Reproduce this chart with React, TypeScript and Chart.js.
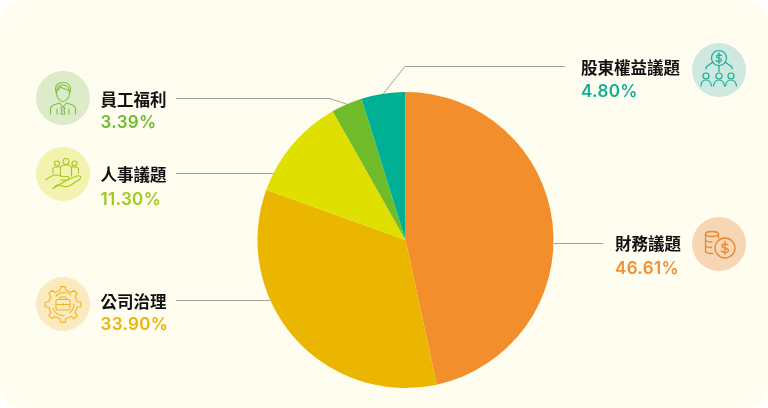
import React, { useEffect, useRef } from "react";
import { Chart, registerables } from "chart.js";

Chart.register(...registerables);

const categories = ["財務議題", "公司治理", "人事議題", "員工福利", "股東權益議題"];
const values = [46.61, 33.9, 11.3, 3.39, 4.8];
const valueLabels = ["46.61%", "33.90%", "11.30%", "3.39%", "4.80%"];
const sliceColors = ["#f28f2c", "#eab600", "#dfe000", "#6fbb29", "#00b094"];
const textColors = ["#f28f32", "#eab40a", "#9ccb1c", "#70bb30", "#12ae96"];
const iconBackgrounds = ["#f7d6b5", "#fbe9c0", "#f1f3ae", "#dcebc8", "#cfe8e0"];
const iconStrokes = ["#e8872a", "#f0b91a", "#a6c81e", "#80c040", "#18ad96"];

type Callout = {
  side: "left" | "right"; textLeft: number; iconX: number; iconY: number; titleY: number; valueY: number;
  lineY: number; lineEnd: number; elbowX?: number;
};
const callouts: Callout[] = [
  { side: "right", textLeft: 615, iconX: 719, iconY: 243.5, titleY: 243, valueY: 267.5, lineY: 243, lineEnd: 603 },
  { side: "left", textLeft: 100.5, iconX: 62.5, iconY: 303.5, titleY: 301, valueY: 323.5, lineY: 300, lineEnd: 176 },
  { side: "left", textLeft: 100.5, iconX: 62.5, iconY: 173.5, titleY: 174, valueY: 198.5, lineY: 173, lineEnd: 176 },
  { side: "left", textLeft: 100.5, iconX: 62.5, iconY: 98, titleY: 99, valueY: 121.5, lineY: 98, lineEnd: 176, elbowX: 330 },
  { side: "right", textLeft: 581, iconX: 719, iconY: 70, titleY: 67, valueY: 91, lineY: 66, lineEnd: 565, elbowX: 405 },
];

const leaderPlugin = {
  id: "leaders",
  afterDatasetsDraw(chart: any) {
    const { ctx } = chart;
    const arcs = chart.getDatasetMeta(0).data;
    ctx.save();
    ctx.strokeStyle = "#a3a29a";
    ctx.lineWidth = 1;
    callouts.forEach((c, i) => {
      const arc = arcs[i];
      const r = arc.outerRadius;
      ctx.beginPath();
      ctx.moveTo(c.lineEnd, c.lineY + 0.5);
      if (c.elbowX !== undefined) {
        const mid = (arc.startAngle + arc.endAngle) / 2;
        ctx.lineTo(c.elbowX, c.lineY + 0.5);
        ctx.lineTo(arc.x + Math.cos(mid) * r, arc.y + Math.sin(mid) * r);
      } else {
        const dy = c.lineY - arc.y;
        const dx = Math.sqrt(r * r - dy * dy);
        ctx.lineTo(c.side === "left" ? arc.x - dx : arc.x + dx, c.lineY + 0.5);
      }
      ctx.stroke();
    });
    ctx.restore();
  },
};

function gearPath(cx: number, cy: number, outer: number, inner: number, teeth: number) {
  const pts: string[] = [];
  const step = (Math.PI * 2) / teeth;
  for (let i = 0; i < teeth; i++) {
    const a = i * step - Math.PI / 2;
    const w = step * 0.2;
    const p: [number, number][] = [
      [inner, a - w * 1.25], [outer, a - w * 0.8], [outer, a + w * 0.8], [inner, a + w * 1.25],
    ];
    p.forEach(([r, t]) => pts.push(`${(cx + Math.cos(t) * r).toFixed(2)} ${(cy + Math.sin(t) * r).toFixed(2)}`));
  }
  return "M" + pts.join("L") + "Z";
}

function Icon({ index }: { index: number }) {
  const s = { fill: "none", stroke: iconStrokes[index], strokeWidth: 1.1, strokeLinecap: "round" as const, strokeLinejoin: "round" as const };
  const c = callouts[index];
  let body: React.ReactNode = null;
  if (index === 0) {
    body = (
      <g {...s} strokeWidth={1.3}>
        <ellipse cx="20" cy="17" rx="6.500" ry="2.500" />
        <path d="M13.500 17v17c0 1.500 3 2.500 7 2.500M26.500 17v4M13.500 22.500c0 1.500 3 2.500 6.500 2.500M13.500 28c0 1.500 3 2.500 6 2.500" />
        <circle cx="33" cy="31" r="10" />
        <path d="M36 28c-1-1.500-6-1.500-6 1 0 3 6.500 1.500 6.500 4.500 0 2.500-5.500 2.500-7 .5M33 24.500v13" />
      </g>
    );
  } else if (index === 1) {
    body = (
      <g {...s}>
        <path d={gearPath(27, 27.5, 18, 14.5, 8)} />
        <path d="M20 19a11 11 0 0 1 15-1M38 27a11 11 0 0 1-4 8.500M28 38.500a11 11 0 0 1-11-7" />
        <rect x="20" y="22.500" width="14" height="10.500" rx="1.500" />
        <path d="M24 22.500V20h6v2.500M20 27.500h14M27 26.500v2" />
      </g>
    );
  } else if (index === 2) {
    body = (
      <g {...s}>
        <circle cx="30" cy="14.500" r="3" /><circle cx="21" cy="16.500" r="2.500" /><circle cx="38.500" cy="16.500" r="2.500" />
        <path d="M24.500 29v-8c0-2 2-3 5.500-3s5.500 1 5.500 3v8M17 26v-4c0-1 1-2 3.500-2h4M35.500 20H39c2.500 0 3.500 1 3.500 2v4" />
        <path d="M9.500 33c4-3 7-5 10-5s5 1 7 1.500h5c2 0 2 3.500 0 3.500h-7M31 33l10-4c3-1 5 1 3 3l-9 6c-3 2-6 2-9 1l-5-1-4 3.500z" />
      </g>
    );
  } else if (index === 3) {
    body = (
      <g {...s}>
        <path d="M20.500 22c0-6 2.500-8 6.500-8s6.500 2 6.500 8c0 4-3 8.500-6.500 8.500s-6.500-4.500-6.500-8.500z" />
        <path d="M20.500 22c-1-1-1-3-1-4 0-4 3-6.500 7.500-6.500s7.500 2.500 7.500 6.500c0 1 0 3-1 4M20.500 20c2-1 3-3 4-4 3 2 6 2 9 4" />
        <path d="M14.500 43v-5c0-2 1-3 3-4l6-2 3.500 4 3.500-4 6 2c2 1 3 2 3 4v5M21 38v5M33 38v5M25 37l2-1 2 1-1 2 1 4h-4l1-4z" />
      </g>
    );
  } else {
    body = (
      <g {...s} strokeWidth={1.2}>
        <circle cx="27" cy="15" r="7.500" />
        <path d="M29.500 12.500c-1-1-5-1-5 1 0 2.500 5 1 5 3.500 0 2-4 2-5.500 .5M27 9.500v11" />
        <path d="M27 22.500v6M21 19l-7 5v2M33 19l7 5v2" />
        <circle cx="14" cy="33" r="3" /><circle cx="27" cy="33" r="3" /><circle cx="39" cy="33" r="3" />
        <path d="M9 43c0-4 2-6 5-6s5 2 5.500 6M21.500 43c.5-4 2.500-6 5.500-6s5 2 5.500 6M33.500 43c.5-4 2.500-6 5.500-6s5 2 5.500 6" />
      </g>
    );
  }
  return (
    <svg width="54" height="54" viewBox="0 0 54 54" style={{ position: "absolute", left: c.iconX - 27, top: c.iconY - 27 }}>
      <circle cx="27" cy="27" r="27" fill={iconBackgrounds[index]} />
      {body}
    </svg>
  );
}

export default function App() {
  const ref = useRef<HTMLCanvasElement>(null);
  useEffect(() => {
    const chart = new Chart(ref.current!, {
      type: "pie",
      data: {
        labels: categories,
        datasets: [{ data: values, backgroundColor: sliceColors, borderWidth: 0 }],
      },
      options: {
        responsive: false,
        animation: false,
        layout: { padding: { top: 92, bottom: 20, left: 257.5, right: 214.5 } },
        plugins: { legend: { display: false }, tooltip: { enabled: false } },
      },
      plugins: [leaderPlugin],
    });
    return () => chart.destroy();
  }, []);

  return (
    <div style={{ position: "fixed", left: 0, top: 0, width: 768, height: 408, background: "#ffffff", overflow: "hidden" }}>
      <div style={{ position: "absolute", inset: 0, background: "#fffdf0", borderRadius: 22 }} />
      <canvas ref={ref} width={768} height={408} style={{ position: "absolute", left: 0, top: 0, width: 768, height: 408 }} />
      {categories.map((name, i) => {
        const c = callouts[i];
        const base: React.CSSProperties = { position: "absolute", whiteSpace: "nowrap", transform: "translateY(-50%)", left: c.textLeft };
        return (
          <React.Fragment key={name}>
            <Icon index={i} />
            <div style={{ ...base, top: c.titleY, color: "#111", fontFamily: "'Noto Sans CJK TC'", fontWeight: 700, fontSize: 16.5, lineHeight: "20px" }}>{name}</div>
            <div style={{ ...base, top: c.valueY, color: textColors[i], fontFamily: "Inter", fontWeight: 600, fontSize: 17, letterSpacing: 0.35, lineHeight: "20px" }}>{valueLabels[i]}</div>
          </React.Fragment>
        );
      })}
    </div>
  );
}
